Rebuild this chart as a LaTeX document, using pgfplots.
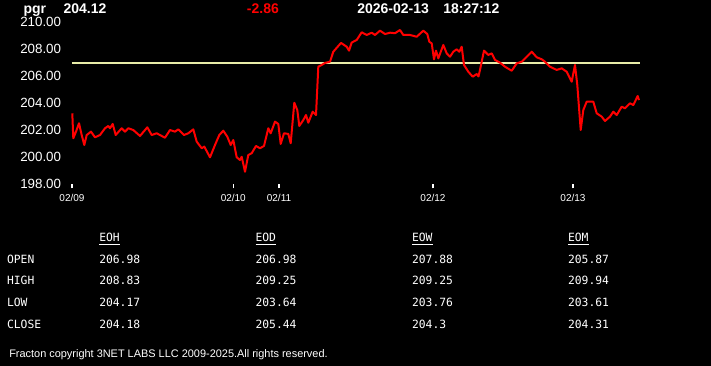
\documentclass[border=0pt]{standalone}
\usepackage{pgfplots}
\pgfplotsset{compat=1.18}
\usepackage{fontspec}
\setmainfont{Liberation Sans}
\newfontfamily\monofont{DejaVu Sans Mono}
\definecolor{pale}{RGB}{232,236,168}
\definecolor{lred}{RGB}{255,0,0}
\begin{document}
\begin{tikzpicture}[x=0.75pt,y=0.75pt]
\fill[black] (0,0) rectangle (711,366);
\begin{axis}[
  at={(54pt,136.275pt)}, anchor=south west,
  scale only axis, width=426pt, height=121.5pt,
  xmin=72, xmax=640, ymin=198, ymax=210,
  axis line style={draw=none},
  clip=false,
  xtick={72,233.3,279,433,573},
  xticklabels={02/09,02/10,02/11,02/12,02/13},
  ytick={198,200,202,204,206,208,210},
  yticklabels={198.00,200.00,202.00,204.00,206.00,208.00,210.00},
  tick align=outside, major tick length=3pt,
  tick label style={text=white},
  xticklabel style={font=\fontsize{7.5}{8}\selectfont, inner sep=0pt, anchor=north, yshift=-4.5pt},
  yticklabel style={font=\fontsize{10}{11}\selectfont, inner sep=0pt, anchor=east, xshift=-5pt},
  xtick style={white, line width=0.9pt},
  ytick style={draw=none},
  xtick pos=bottom, ytick pos=left,
]
\addplot[pale, line width=1.6pt] coordinates {(72,206.98) (640,206.98)};
\addplot[lred, line width=1.5pt, line join=round] coordinates {
(72.3,203.26) (73.3,201.41) (76,201.90) (79,202.52) (81.7,201.65) (84.3,200.91)
(86.7,201.65) (91,201.90) (95,201.48) (100,201.65) (105,202.15) (108.3,202.32)
(110,202.15) (112.7,202.47) (115.7,201.65) (121.7,202.15) (125,201.90) (128.3,202.15)
(133.3,202.02) (140,201.58) (147.3,202.22) (151.7,201.65) (156.7,201.78) (161.7,201.58)
(165,201.45) (170,202.02) (175,201.90) (178.3,202.07) (184,201.65) (188.3,201.78)
(193.3,202.07) (196.7,201.16) (201.7,200.67) (204.3,200.79) (210,200.00) (215,200.91)
(219.3,201.65) (223.3,201.97) (227.3,201.53) (230.7,200.91) (233.3,201.28) (236.7,200.00)
(240,199.80) (241.7,200.04) (245,198.93) (248.3,200.17) (251.7,200.30) (256,200.84)
(260,200.67) (264,200.84) (268.3,202.15) (270.7,201.78) (275,202.64) (278.3,202.47)
(280.7,200.99) (284,201.78) (288.3,201.73) (290.7,201.04) (294.3,204.04) (297.3,203.50)
(299.3,202.32) (303.3,202.76) (306,203.13) (308.3,202.56) (312.7,203.38) (316,203.13)
(318.3,206.71) (321.7,206.84) (325,206.99) (330,207.08) (333.3,207.82) (341,208.47)
(346.7,208.19) (349,207.90) (351.7,208.50) (356.7,208.69) (361.7,209.26) (366.7,209.06)
(371.7,209.23) (375,209.06) (380,209.38) (385,209.13) (390,209.23) (395,209.19)
(400,209.43) (403.3,209.06) (410,209.06) (416.7,208.93) (423.3,209.38) (427.3,209.13)
(429.3,208.56) (431.7,208.44) (434,207.26) (436,207.90) (438.3,207.33) (443.3,208.32)
(446.7,207.70) (450,207.45) (453.3,207.82) (456.7,208.00) (459.3,207.82) (461.7,208.19)
(464,206.84) (468.3,206.34) (472.7,205.97) (476.7,206.17) (478.5,205.99) (480,206.47)
(484,207.90) (488.3,207.58) (491.7,207.70) (495,207.21) (500,207.01) (505,206.71)
(511.7,206.41) (516.7,206.96) (521.7,207.08) (526.7,207.45) (531.7,207.82) (536.7,207.41)
(541.7,207.26) (545,207.08) (550,206.71) (556.7,206.47) (561.7,206.59) (566.7,206.34)
(571.7,205.60) (575,206.84) (577.3,205.36) (580.7,202.02) (583.3,203.50) (586.7,204.12)
(593.3,204.12) (596.7,203.26) (601.7,203.01) (605,202.69) (610,203.01) (613.3,203.38)
(616.7,203.13) (621.7,203.75) (625,203.63) (630,204.00) (633.3,203.87) (637.7,204.54)
(639,204.24)
};
\end{axis}
% header
\node[anchor=base west, inner sep=0, text=white, font=\bfseries\fontsize{10.5}{12}\selectfont] at (23.3,352.6) {pgr};
\node[anchor=base west, inner sep=0, text=white, font=\bfseries\fontsize{10.5}{12}\selectfont] at (63.3,352.6) {204.12};
\node[anchor=base west, inner sep=0, text=lred, font=\bfseries\fontsize{10.5}{12}\selectfont] at (246.7,352.6) {-2.86};
\node[anchor=base west, inner sep=0, text=white, font=\bfseries\fontsize{10.5}{12}\selectfont] at (357,352.6) {2026-02-13};
\node[anchor=base west, inner sep=0, text=white, font=\bfseries\fontsize{10.5}{12}\selectfont] at (443,352.6) {18:27:12};
% table
\begin{scope}[every node/.style={anchor=base west, inner sep=0, text=white, font=\monofont\fontsize{8.5}{10}\selectfont}]
\node at (99,124) {\underline{EOH}};
\node at (255.3,124) {\underline{EOD}};
\node at (411.8,124) {\underline{EOW}};
\node at (567.8,124) {\underline{EOM}};
\node at (6.8,102) {OPEN};
\node at (6.8,81) {HIGH};
\node at (6.8,59) {LOW};
\node at (6.8,37) {CLOSE};
\node at (99,102) {206.98};
\node at (255.3,102) {206.98};
\node at (411.8,102) {207.88};
\node at (567.8,102) {205.87};
\node at (99,81) {208.83};
\node at (255.3,81) {209.25};
\node at (411.8,81) {209.25};
\node at (567.8,81) {209.94};
\node at (99,59) {204.17};
\node at (255.3,59) {203.64};
\node at (411.8,59) {203.76};
\node at (567.8,59) {203.61};
\node at (99,37) {204.18};
\node at (255.3,37) {205.44};
\node at (411.8,37) {204.3};
\node at (567.8,37) {204.31};
\end{scope}
\node[anchor=base west, inner sep=0, text=white, font=\fontsize{8.2}{9}\selectfont] at (9,8) {Fracton copyright 3NET LABS LLC 2009-2025.All rights reserved.};
\end{tikzpicture}
\end{document}
